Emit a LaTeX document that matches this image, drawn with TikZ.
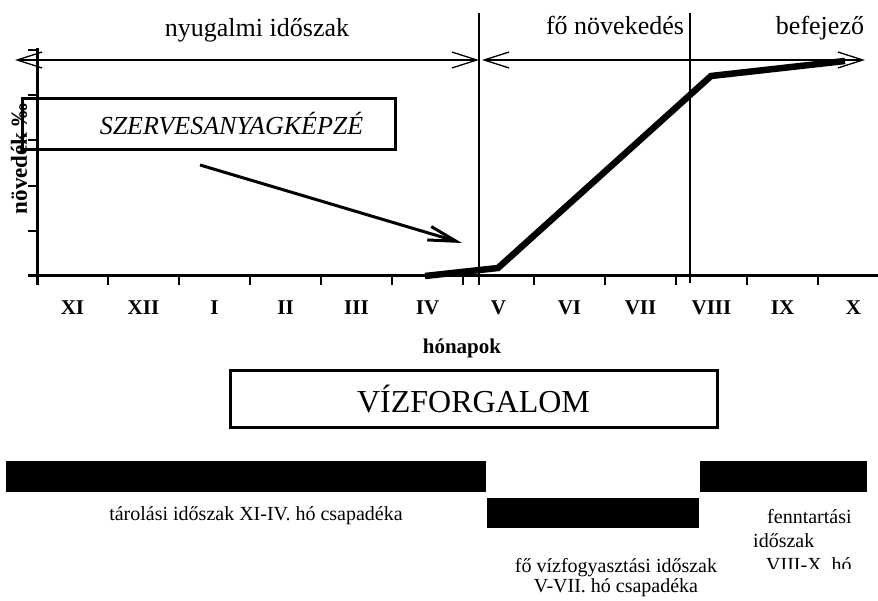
\documentclass[tikz,border=0pt]{standalone}
\usepackage{fontspec}
\setmainfont{Liberation Serif}
\usetikzlibrary{arrows.meta,positioning}

\begin{document}
\begin{tikzpicture}[
    x=1pt, y=-1pt,
    axis/.style={line width=3pt},
    tick/.style={line width=2pt},
    period/.style={line width=1.3pt},
    span/.style={{Straight Barb[length=25pt,width=16pt]}-{Straight Barb[length=25pt,width=16pt]}, line width=1.3pt},
    pointer/.style={-{Straight Barb[length=28pt,width=14pt]}, line width=3pt},
    phase/.style={font=\fontsize{26}{30}\selectfont, anchor=base, inner sep=0pt},
    month/.style={font=\fontsize{21}{24}\selectfont\bfseries, anchor=base, inner sep=0pt},
    note/.style={font=\fontsize{20}{20}\selectfont, anchor=base, inner sep=0pt},
    framebox/.style={draw, line width=3pt, inner sep=0pt},
    bar/.style={fill=black}
]
\useasboundingbox (0,0) rectangle (878,601);

% Szakaszok
\node[phase] (nyug) at (257,37) {nyugalmi időszak};
\node[phase] (fonov) at (615,35) {fő növekedés};
\node[phase] (befej) at (820,35) {befejező};

\coordinate (s1) at (15,60);
\coordinate (s2) at (479,60);
\coordinate (s3) at (482,60);
\coordinate (s4) at (865,60);
\draw[span] (s1) -- (s2);
\draw[span] (s3) -- (s4);

\draw[period] (479,13) -- (479,285);
\draw[period] (690,13) -- (690,283);

% Tengelyek
\node[font=\fontsize{23}{24}\selectfont\bfseries, rotate=90, anchor=base, inner sep=0pt] (ylab) at (27,159) {növedék ‰};
\draw[axis] (37,48) -- (37,285);
\draw[axis] (28,276) -- (878,276);
\foreach \i in {0,...,11}
    \draw[tick] ({37+71*\i},276) -- ++(0,9);
\foreach \j in {1,...,5}
    \draw[tick] (28,{276-45.2*\j}) -- (37,{276-45.2*\j});

\foreach \m [count=\i] in {XI,XII,I,II,III,IV,V,VI,VII,VIII,IX,X}
    \node[month] (m\i) at ({37+71*(\i-0.5)},315) {\m};
\node[month] (honap) at (462,354) {hónapok};

% Szervesanyagképzés
\node[framebox, minimum width=373pt, minimum height=51pt] (szbox) at (208.5,124.5) {};
\node[phase, font=\fontsize{26}{30}\selectfont\itshape] (sztext) at (231.5,135) {SZERVESANYAGKÉPZÉ};
\coordinate (p1) at (200,165);
\coordinate (p2) at (462,243);
\draw[pointer] (p1) -- (p2);

% Növekedési görbe
\draw[line width=6.5pt] (425,276) -- (498,268) -- (711,76) -- (845,61);

% Vízforgalom
\node[framebox, minimum width=487pt, minimum height=56pt, font=\fontsize{32}{36}\selectfont, text height=26pt, text depth=0pt] (viz) at (473.5,399) {VÍZFORGALOM};

\fill[bar] (6,461) rectangle (486,492);
\fill[bar] (487,498) rectangle (699,528);
\fill[bar] (700,461) rectangle (867,492);

\node[note] (tarol) at (256,520) {tárolási időszak XI-IV. hó csapadéka};
\node[note] (fogy1) at (616,572) {fő vízfogyasztási időszak};
\node[note] (fogy2) at (616,592) {V-VII. hó csapadéka};

\begin{scope}
\clip (740,500) rectangle (878,568);
\node[note, anchor=base west] (fenn1) at (767,523) {fenntartási};
\node[note, anchor=base west] (fenn2) at (753,547) {időszak};
\node[note, anchor=base west] (fenn3) at (766,571) {VIII-X. hó};
\end{scope}

\end{tikzpicture}
\end{document}
